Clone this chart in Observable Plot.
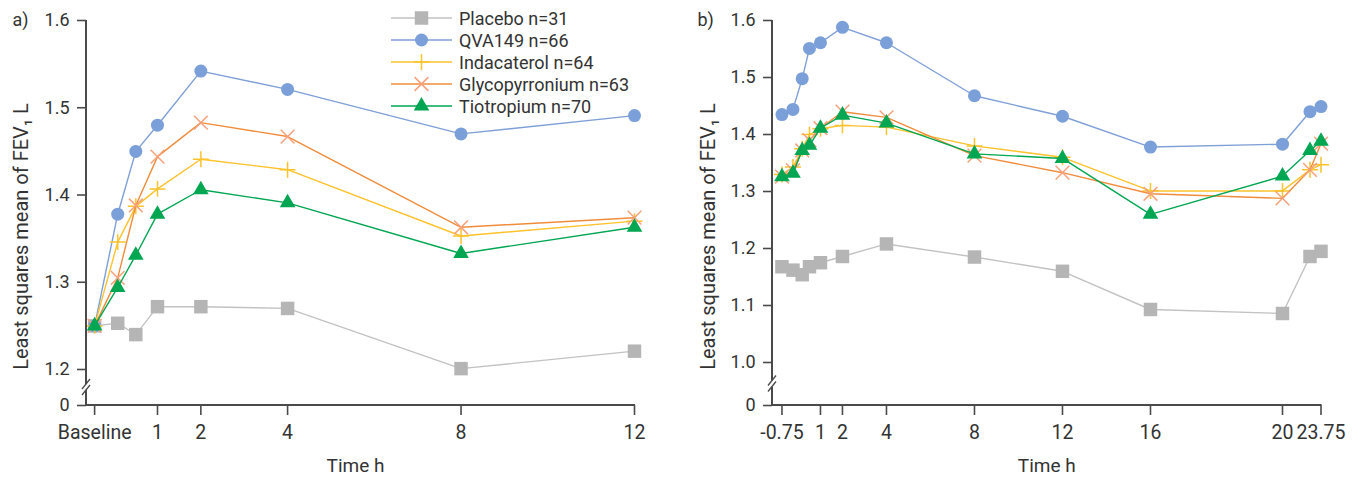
<!DOCTYPE html>
<html><head><meta charset="utf-8">
<script src="https://cdn.jsdelivr.net/npm/d3@7"></script>
<script src="https://cdn.jsdelivr.net/npm/@observablehq/plot@0.6"></script>
<style>
body{margin:0;background:#fff;font-family:Roboto,sans-serif;}
#wrap{position:relative;width:1362px;height:477px;display:flex;}
#legend{position:absolute;left:391px;top:7px;}
#legend .row{display:flex;align-items:center;height:22px;}
#legend span{font-size:18px;color:#333;font-family:Roboto,sans-serif;white-space:nowrap;}
</style></head><body><div id="wrap"></div>
<script>
// ---------- data ----------
const seriesNames = ["Placebo n=31","QVA149 n=66","Indacaterol n=64","Glycopyrronium n=63","Tiotropium n=70"];

// panel a) time points (h), baseline shown left of 0
const timesA = [-0.45, 0.083, 0.5, 1, 2, 4, 8, 12];
const placeboA = [1.250, 1.253, 1.240, 1.272, 1.272, 1.270, 1.201, 1.221];
const qvaA     = [1.250, 1.378, 1.450, 1.480, 1.542, 1.521, 1.470, 1.491];
const indacA   = [1.250, 1.346, 1.387, 1.407, 1.441, 1.429, 1.353, 1.370];
const glycoA   = [1.250, 1.305, 1.388, 1.444, 1.483, 1.467, 1.363, 1.374];
const tioA     = [1.250, 1.294, 1.331, 1.378, 1.406, 1.391, 1.333, 1.363];

// panel b) time points (h)
const timesB = [-0.75, -0.25, 0.17, 0.5, 1, 2, 4, 8, 12, 16, 22, 23.25, 23.75];
const placeboB = [1.168, 1.162, 1.154, 1.168, 1.175, 1.186, 1.208, 1.185, 1.160, 1.093, 1.086, 1.186, 1.195];
const qvaB     = [1.435, 1.444, 1.498, 1.551, 1.561, 1.588, 1.561, 1.468, 1.432, 1.378, 1.383, 1.440, 1.449];
const indacB   = [1.330, 1.343, 1.375, 1.400, 1.410, 1.416, 1.413, 1.380, 1.360, 1.301, 1.301, 1.338, 1.347];
const glycoB   = [1.326, 1.337, 1.372, 1.390, 1.411, 1.440, 1.430, 1.363, 1.333, 1.296, 1.288, 1.338, 1.384];
const tioB     = [1.326, 1.332, 1.372, 1.381, 1.411, 1.434, 1.420, 1.366, 1.358, 1.260, 1.327, 1.372, 1.388];

// ticks
const yTicksA = [1.2, 1.3, 1.4, 1.5, 1.6];
const yTicksB = [1.0, 1.1, 1.2, 1.3, 1.4, 1.5, 1.6];
const yZeroLabel = "0";
const xTicksA = [-0.45, 1, 2, 4, 8, 12];
const xTickLabelsA = ["Baseline", "1", "2", "4", "8", "12"];
const xTicksB = [-0.75, 1, 2, 4, 8, 12, 16, 22, 23.75];
const xTickLabelsB = ["-0.75", "1", "2", "4", "8", "12", "16", "20", "23.75"];
const yLabel = "Least squares mean of FEV\u2081 L";
const xLabel = "Time h";

// ---------- styles ----------
const lineColors   = ["#c2c2c2", "#7f9fd7", "#fdc22c", "#f08c3c", "#00a651"];
const markerColors = ["#b5b5b6", "#7b9fd8", "#fdc22c", "#f6a07c", "#00a651"];
const symbols      = ["square", "circle", "plus", "times", "triangle"];
const d3Symbols    = [d3.symbolSquare, d3.symbolCircle, d3.symbolPlus, d3.symbolTimes, d3.symbolTriangle];
const symbolR      = [7.6, 6.5, 5.2, 6.3, 5.8];
const filledSym    = [true, true, false, false, true];
const axisColor = "#4a4a4a";
const textColor = "#333333";

function panel(cfg) {
  const {times, series, xTicks, xLabels, xDomain, yTicks, yZero, marginLeft, marginRight, tag, tagDx, yLabelDx, xLabelDx} = cfg;
  const labelMap = new Map(xTicks.map((t, i) => [t, xLabels[i]]));
  const marks = [];
  series.forEach((vals, s) => {
    const data = vals.map((v, i) => ({t: times[i], v}));
    marks.push(Plot.line(data, {x: "t", y: "v", stroke: lineColors[s], strokeWidth: 1.4}));
    marks.push(Plot.dot(data, {
      x: "t", y: "v", symbol: symbols[s], r: symbolR[s],
      fill: filledSym[s] ? markerColors[s] : "none",
      stroke: filledSym[s] ? "none" : markerColors[s],
      strokeWidth: 1.5
    }));
  });
  const yLow = yTicks[0];
  const xLast = xTicks[xTicks.length - 1];
  // axis lines with break
  marks.push((index, scales, values, dims) => {
    const x0 = dims.marginLeft;
    const yTop = dims.marginTop;
    const yBot = dims.height - dims.marginBottom;
    const yb = (scales.y(yLow) + yBot) / 2;
    const x1 = scales.x(xLast);
    const g = d3.create("svg:g").attr("stroke", axisColor).attr("fill", "none").attr("stroke-width", 2);
    g.append("line").attr("x1", x0).attr("x2", x0).attr("y1", yTop).attr("y2", yb - 3);
    g.append("line").attr("x1", x0).attr("x2", x0).attr("y1", yb + 3).attr("y2", yBot);
    g.append("line").attr("x1", x0 - 4).attr("x2", x0 + 4).attr("y1", yb - 3 + 5).attr("y2", yb - 3 - 5).attr("stroke-width", 1.3);
    g.append("line").attr("x1", x0 - 4).attr("x2", x0 + 4).attr("y1", yb + 3 + 5).attr("y2", yb + 3 - 5).attr("stroke-width", 1.3);
    g.append("line").attr("x1", x0 - 1).attr("x2", x1 + 1).attr("y1", yBot).attr("y2", yBot);
    return g.node();
  });
  marks.push(Plot.axisY([yZero, ...yTicks], {
    tickSize: 9, tickPadding: 8, fontSize: 18, stroke: axisColor, strokeWidth: 1.6, fill: textColor,
    tickFormat: d => d === yZero ? yZeroLabel : d.toFixed(1), label: null
  }));
  marks.push(Plot.axisX(xTicks, {
    tickSize: 10, tickPadding: 10, fontSize: 19.5, stroke: axisColor, strokeWidth: 1.6, fill: textColor,
    tickFormat: d => labelMap.get(d), label: null
  }));
  marks.push(Plot.text([tag], {frameAnchor: "top-left", dx: tagDx, textAnchor: "start", lineAnchor: "middle", fontSize: 18, fill: textColor}));
  marks.push(Plot.text([yLabel], {frameAnchor: "left", rotate: -90, dx: yLabelDx, dy: 23.5, textAnchor: "middle", lineAnchor: "middle", fontSize: 20, fill: textColor}));
  marks.push(Plot.text([xLabel], {frameAnchor: "bottom", dx: xLabelDx, dy: 60, textAnchor: "middle", lineAnchor: "middle", fontSize: 19, fill: textColor}));
  return Plot.plot({
    width: 681, height: 477,
    marginTop: 20, marginBottom: 72, marginLeft, marginRight,
    x: {domain: xDomain},
    y: {domain: [yZero, 1.6]},
    style: {fontFamily: "Roboto, sans-serif", background: "#fff", overflow: "visible"},
    marks
  });
}

const wrap = document.getElementById("wrap");
wrap.appendChild(panel({
  times: timesA, series: [placeboA, qvaA, indacA, glycoA, tioA],
  xTicks: xTicksA, xLabels: xTickLabelsA, xDomain: [-0.637, 12],
  yTicks: yTicksA, yZero: 1.2 - 36 / 872.5,
  marginLeft: 86, marginRight: 47, tag: "a)", tagDx: -74, yLabelDx: -65, xLabelDx: -5
}));
wrap.appendChild(panel({
  times: timesB, series: [placeboB, qvaB, indacB, glycoB, tioB],
  xTicks: xTicksB, xLabels: xTickLabelsB, xDomain: [-1.18, 23.75],
  yTicks: yTicksB, yZero: 1.0 - 43 / 570,
  marginLeft: 91, marginRight: 41.5, tag: "b)", tagDx: -75, yLabelDx: -64, xLabelDx: 0
}));

// legend (panel a)
const leg = d3.select("#wrap").append("div").attr("id", "legend");
seriesNames.forEach((name, s) => {
  const row = leg.append("div").attr("class", "row");
  const svg = row.append("svg").attr("width", 68).attr("height", 22);
  svg.append("line").attr("x1", 0).attr("x2", 61).attr("y1", 11).attr("y2", 11)
    .attr("stroke", lineColors[s]).attr("stroke-width", 1.6);
  svg.append("path").attr("transform", "translate(30.5,11)")
    .attr("d", d3.symbol(d3Symbols[s], Math.PI * symbolR[s] * symbolR[s])())
    .attr("fill", filledSym[s] ? markerColors[s] : "none")
    .attr("stroke", filledSym[s] ? "none" : markerColors[s])
    .attr("stroke-width", 1.5);
  row.append("span").text(name);
});
</script>
</body></html>
